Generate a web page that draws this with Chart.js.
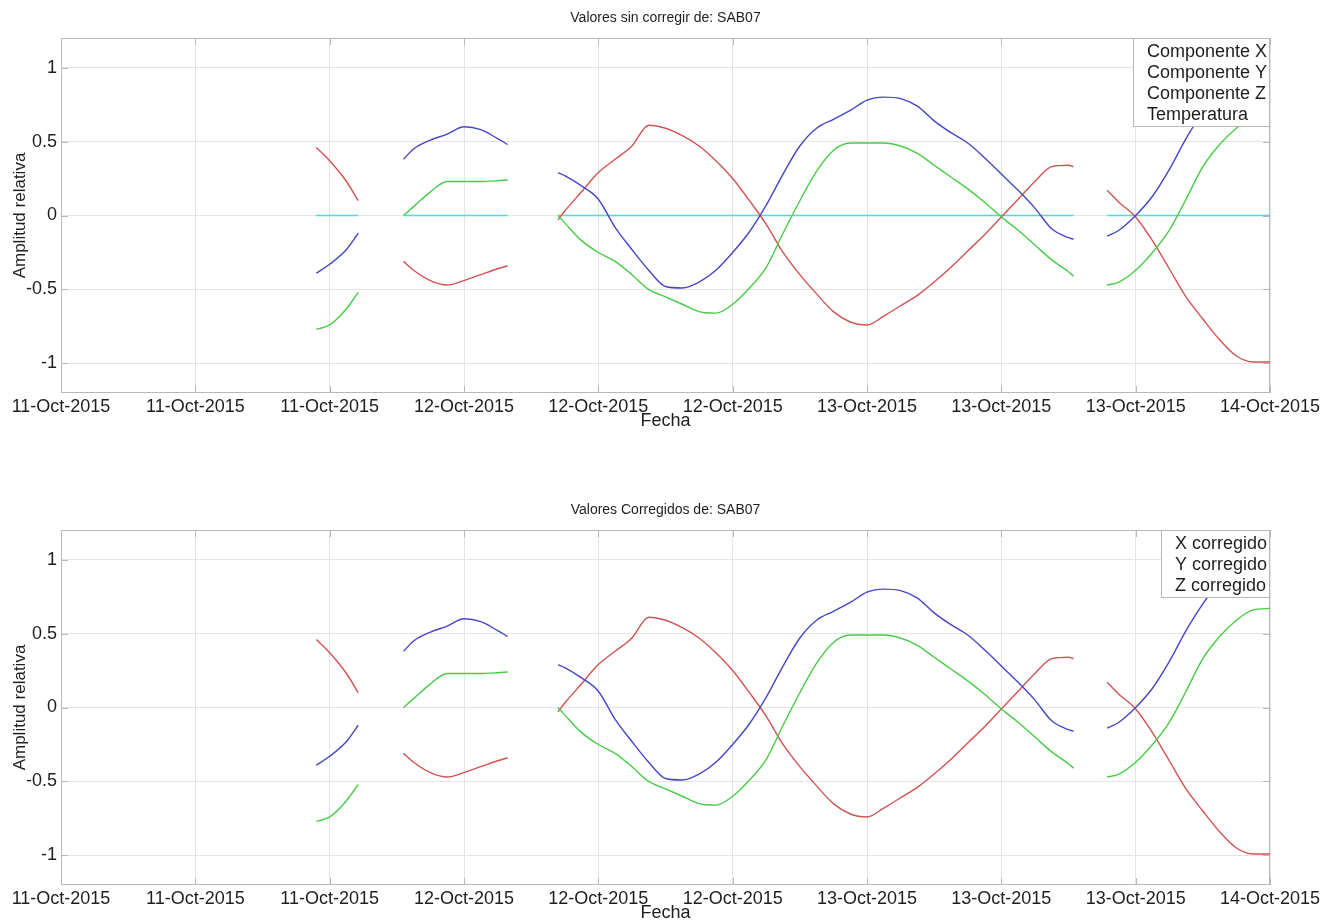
<!DOCTYPE html>
<html><head><meta charset="utf-8">
<script src="https://cdn.jsdelivr.net/npm/chart.js@4.4.1/dist/chart.umd.min.js"></script>
<style>
html,body{margin:0;padding:0;background:#fff;width:1334px;height:922px;overflow:hidden;}
.box{position:absolute;left:0;width:1334px;height:432px;}
</style></head><body>
<div class="box" style="top:0"><canvas id="c1"></canvas></div>
<div class="box" style="top:492px"><canvas id="c2"></canvas></div>
<script>
// time in hours from 11-Oct-2015 00:00 (null values = gaps)
const hours = [15.2,16,17,17.7, 19,
  20.4,21,22,23,24,25,26,26.6, 28,
  29.6,30,31,32,33,34,35,36,37,38,39,40,41,42,43,44,45,46,47,48,49,50,51,52,53,54,55,56,57,58,59,60,60.3, 61.3,
  62.3,63,64,65,66,67,68,69,70,71,72];
const compX = [-0.39,-0.33,-0.23,-0.12, null,
  0.38,0.45,0.51,0.55,0.60,0.58,0.52,0.48, null,
  0.29,0.27,0.20,0.11,-0.08,-0.23,-0.37,-0.48,-0.49,-0.45,-0.37,-0.25,-0.11,0.07,0.28,0.47,0.59,0.65,0.71,0.78,0.80,0.79,0.74,0.64,0.56,0.49,0.39,0.28,0.17,0.05,-0.09,-0.15,-0.16, null,
  -0.14,-0.10,0.0,0.13,0.31,0.52,0.70,0.86,0.98,1.06,1.10];
const compY = [-0.77,-0.74,-0.63,-0.52, null,
  0.0,0.06,0.16,0.23,0.23,0.23,0.235,0.24, null,
  0.0,-0.05,-0.17,-0.25,-0.31,-0.40,-0.50,-0.55,-0.60,-0.65,-0.66,-0.60,-0.49,-0.35,-0.12,0.10,0.30,0.44,0.49,0.49,0.49,0.47,0.42,0.34,0.26,0.18,0.09,-0.01,-0.10,-0.20,-0.30,-0.38,-0.41, null,
  -0.47,-0.45,-0.37,-0.25,-0.10,0.11,0.33,0.48,0.59,0.66,0.67];
const compZ = [0.46,0.37,0.23,0.10, null,
  -0.31,-0.37,-0.44,-0.47,-0.44,-0.40,-0.36,-0.34, null,
  -0.03,0.03,0.16,0.29,0.38,0.47,0.61,0.59,0.54,0.47,0.37,0.25,0.10,-0.06,-0.25,-0.40,-0.53,-0.65,-0.72,-0.74,-0.68,-0.61,-0.54,-0.45,-0.35,-0.24,-0.13,-0.01,0.11,0.23,0.33,0.34,0.33, null,
  0.17,0.09,-0.01,-0.17,-0.36,-0.55,-0.70,-0.84,-0.95,-0.99,-0.99];
const temperatura = [0,0,0,0, null,
  0,0,0,0,0,0,0,0, null,
  0,0,0,0,0,0,0,0,0,0,0,0,0,0,0,0,0,0,0,0,0,0,0,0,0,0,0,0,0,0,0,0,0, null,
  0,0,0,0,0,0,0,0,0,0,0];
// corrected values (same as uncorrected in the picture)
const corrX = compX.slice();
const corrY = compY.slice();
const corrZ = compZ.slice();

const xTickHours = [0,8,16,24,32,40,48,56,64,72];
const xTickLabels = ['11-Oct-2015','11-Oct-2015','11-Oct-2015','12-Oct-2015','12-Oct-2015','12-Oct-2015','13-Oct-2015','13-Oct-2015','13-Oct-2015','14-Oct-2015'];
const yTickValues = [-1,-0.5,0,0.5,1];
const yTickLabels = ['-1','-0.5','0','0.5','1'];

const FONT = '"Liberation Sans", Arial, Helvetica, sans-serif';
const TEXT = '#1e1e1e';
const GRID = '#e4e4e4';
const FRAME = '#b8b8b8';
const COLORS = {x:'#4646c4', y:'#48cc48', z:'#d25252', t:'#3ee0e0'};

const framePlugin = {
  id: 'frame',
  beforeDatasetsDraw(chart) {
    const {ctx, chartArea: a, scales: {x, y}} = chart;
    ctx.save();
    ctx.strokeStyle = FRAME; ctx.lineWidth = 1;
    ctx.strokeRect(Math.round(a.left)+0.5, Math.round(a.top)+0.5, Math.round(a.width)-1, Math.round(a.height)-1);
    ctx.beginPath();
    x.ticks.forEach(t => {
      const px = Math.round(x.getPixelForValue(t.value)) + 0.5;
      ctx.moveTo(px, a.bottom); ctx.lineTo(px, a.bottom - 7);
      ctx.moveTo(px, a.top); ctx.lineTo(px, a.top + 7);
    });
    y.ticks.forEach(t => {
      const py = Math.round(y.getPixelForValue(t.value)) + 0.5;
      ctx.moveTo(a.left, py); ctx.lineTo(a.left + 7, py);
      ctx.moveTo(a.right, py); ctx.lineTo(a.right - 7, py);
    });
    ctx.stroke();
    ctx.restore();
  },
  afterDatasetsDraw(chart) {
    const {ctx, chartArea: a} = chart;
    const items = chart.data.datasets.map(d => d.label);
    ctx.save();
    ctx.font = '18px ' + FONT;
    const w = Math.round(Math.max(...items.map(s => ctx.measureText(s).width)) + 17);
    const lh = 21;
    const h = items.length * lh + 5;
    const right = Math.round(a.right), left = right - w, top = Math.round(a.top);
    ctx.fillStyle = '#fff'; ctx.fillRect(left, top, w, h);
    ctx.strokeStyle = FRAME; ctx.lineWidth = 1;
    ctx.strokeRect(left + 0.5, top + 0.5, w - 1, h - 1);
    ctx.fillStyle = TEXT; ctx.textBaseline = 'middle'; ctx.textAlign = 'left';
    items.forEach((s, i) => ctx.fillText(s, left + 14, top + 14 + i * lh));
    ctx.restore();
  }
};

function series(label, values, color) {
  return {
    label,
    data: hours.map((h, i) => ({x: h, y: values[i]})),
    borderColor: color, backgroundColor: color,
    borderWidth: 1.4, pointRadius: 0, cubicInterpolationMode: 'monotone',
    spanGaps: false, fill: false
  };
}

function makeChart(id, title, datasets) {
  return new Chart(document.getElementById(id), {
    type: 'line',
    data: { datasets },
    plugins: [framePlugin],
    options: {
      responsive: true, maintainAspectRatio: false, animation: false,
      layout: { padding: { left: 0, right: 64, top: 0, bottom: 0 } },
      plugins: {
        legend: { display: false },
        tooltip: { enabled: false },
        title: { display: true, fullSize: false, text: title, color: TEXT,
          font: { family: FONT, size: 14, weight: 'normal' }, padding: { top: 10, bottom: 11.2 } }
      },
      scales: {
        x: {
          type: 'linear', min: 0, max: 72,
          afterBuildTicks: s => { s.ticks = xTickHours.map(v => ({ value: v })); },
          afterFit: s => { s.height = 39; },
          grid: { color: GRID, drawTicks: false },
          border: { display: false },
          ticks: { autoSkip: false, maxRotation: 0, padding: 3, color: TEXT,
            font: { family: FONT, size: 18 }, callback: (v, i) => xTickLabels[i] },
          title: { display: true, text: 'Fecha', color: TEXT,
            font: { family: FONT, size: 18 }, padding: { top: 0, bottom: 0 } }
        },
        y: {
          type: 'linear', min: -1.2, max: 1.2,
          afterBuildTicks: s => { s.ticks = yTickValues.map(v => ({ value: v })); },
          afterFit: s => { s.width = 61; },
          grid: { color: GRID, drawTicks: false },
          border: { display: false },
          ticks: { padding: 4, color: TEXT, font: { family: FONT, size: 18 },
            callback: (v, i) => yTickLabels[i] },
          title: { display: true, text: 'Amplitud relativa', color: TEXT,
            font: { family: FONT, size: 17 }, padding: { top: 10, bottom: 0 } }
        }
      }
    }
  });
}

makeChart('c1', 'Valores sin corregir de: SAB07', [
  series('Componente X', compX, COLORS.x),
  series('Componente Y', compY, COLORS.y),
  series('Componente Z', compZ, COLORS.z),
  series('Temperatura', temperatura, COLORS.t)
]);
makeChart('c2', 'Valores Corregidos de: SAB07', [
  series('X corregido', corrX, COLORS.x),
  series('Y corregido', corrY, COLORS.y),
  series('Z corregido', corrZ, COLORS.z)
]);
</script>
</body></html>
